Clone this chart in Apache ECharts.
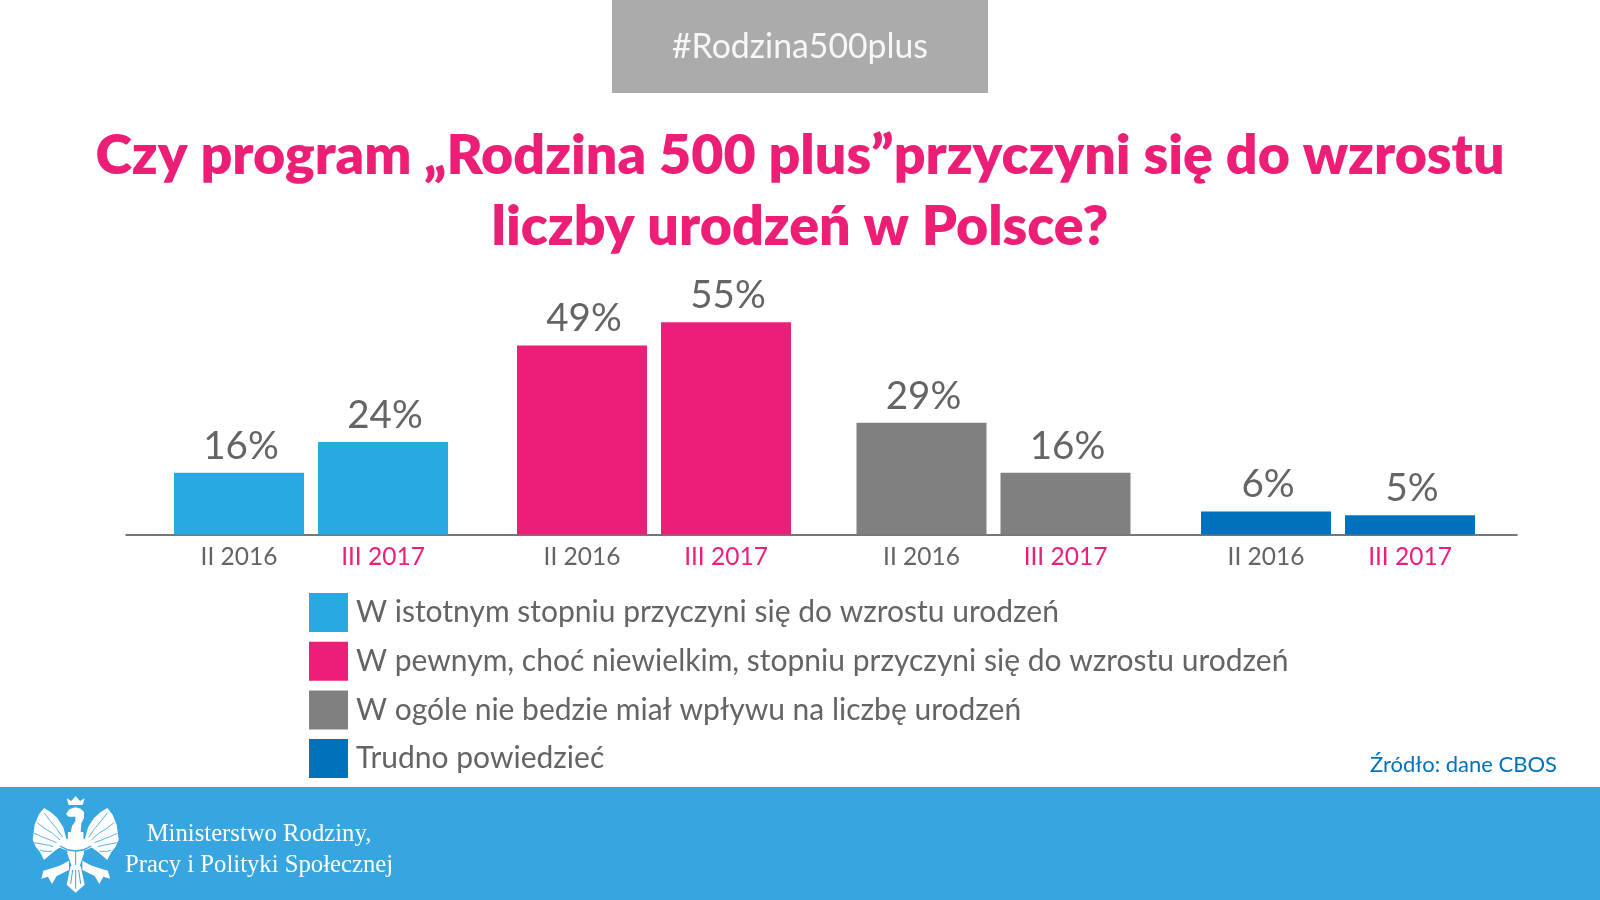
<!DOCTYPE html>
<html>
<head>
<meta charset="utf-8">
<title>Rodzina 500 plus</title>
<style>
html,body{margin:0;padding:0;background:#fff;}
#main{width:1600px;height:900px;}
</style>
<script src="https://cdn.jsdelivr.net/npm/echarts@6/dist/echarts.min.js"></script>
</head>
<body>
<div id="main"></div>
<script>
// dane z wykresu (CBOS)
var okresy = ['II 2016', 'III 2017'];
var istotnym = [16, 24];
var pewnym = [49, 55];
var ogole = [29, 16];
var trudno = [6, 5];
var nazwy = [
    'W istotnym stopniu przyczyni się do wzrostu urodzeń',
    'W pewnym, choć niewielkim, stopniu przyczyni się do wzrostu urodzeń',
    'W ogóle nie bedzie miał wpływu na liczbę urodzeń',
    'Trudno powiedzieć'
];
var tytul = 'Czy program „Rodzina 500 plus”przyczyni się do wzrostu\nliczby urodzeń w Polsce?';
var hashtag = '#Rodzina500plus';
var zrodlo = 'Źródło: dane CBOS';
var stopka = 'Ministerstwo Rodziny,\nPracy i Polityki Społecznej';

var kolory = ['#29a9e1', '#ed1e79', '#808080', '#0071bc'];
var wartosci = [istotnym, pewnym, ogole, trudno];
// lewa krawedz kazdej grupy, krok 144px na slupek
var lewe = [167, 510, 849.5, 1194];
var FONT = 'Lato';

var grid = [], xAxis = [], yAxis = [], series = [];
for (var i = 0; i < 4; i++) {
    grid.push({left: lewe[i], width: 288, top: 303, height: 231.6});
    xAxis.push({
        type: 'category', gridIndex: i, data: okresy,
        axisLine: {show: false}, axisTick: {show: false},
        axisLabel: {
            margin: 10, fontFamily: FONT, fontSize: 24.5, fontWeight: 400,
            color: function (v) { return v === 'II 2016' ? '#636466' : '#ed1e79'; }
        }
    });
    yAxis.push({type: 'value', gridIndex: i, min: 0, max: 60, show: false});
    series.push({
        name: nazwy[i], type: 'bar', xAxisIndex: i, yAxisIndex: i,
        data: wartosci[i], barWidth: 130,
        itemStyle: {color: kolory[i]},
        label: {
            show: true, position: 'top', distance: 7, offset: [2, 0], formatter: '{c}%',
            fontFamily: FONT, fontSize: 38.5, fontWeight: 400, color: '#636466'
        }
    });
}
// linia bazowa osi
grid.push({left: 126, width: 1391, top: 303, height: 231.6});
xAxis.push({
    type: 'category', gridIndex: 4, data: [''],
    axisLine: {lineStyle: {color: '#4a4a4a', width: 1.5}}, axisTick: {show: false}, axisLabel: {show: false}
});
yAxis.push({type: 'value', gridIndex: 4, min: 0, max: 60, show: false});

// orzel w stopce - uproszczony znak, punkty w ukladzie 110x110 *3
var biel = '#ffffff', tlo = '#36a5e0';
var skrzydlo = [[140,150],[130,112],[112,84],[92,66],[72,54],[56,74],[44,104],[38,150],[48,172],[60,186],[72,210],[100,186],[120,172]];
var noga = [[147,212],[122,226],[98,234],[70,242],[64,266],[84,260],[96,282],[110,258],[147,240]];
var piora = [
    [[128,142],[110,116],[90,92],[72,68]],
    [[120,150],[98,130],[72,114],[52,98]],
    [[110,158],[90,150],[65,140],[42,130]],
    [[100,170],[85,166],[65,162],[42,158]],
    [[96,184],[82,184],[72,184],[60,180]]
];
var korona = [[146,45],[140,25],[154,33],[167,18],[180,33],[194,25],[188,45]];
var glowa = [[138,72],[148,58],[166,52],[182,56],[192,66],[192,84],[184,100],[182,128],[152,128],[156,108],[166,94],[166,80],[146,80]];
var tulow = [[144,126],[190,126],[192,190],[178,232],[156,232],[142,190]];
var bark = [[116,148],[218,148],[218,172],[167,192],[116,172]];
var ogon = [[152,228],[182,228],[194,284],[167,308],[140,284]];
var pas = [[120,168],[145,180],[167,183],[189,180],[214,168]];
function odbij(pkt) {
    return pkt.map(function (p) { return [334 - p[0], p[1]]; });
}
function wypelnij(pkt) {
    return {type: 'polygon', z: 10, x: 20, y: 790, scaleX: 1 / 3, scaleY: 1 / 3, shape: {points: pkt}, style: {fill: biel}};
}
function kreska(pkt, lw) {
    return {type: 'polyline', z: 11, x: 20, y: 790, scaleX: 1 / 3, scaleY: 1 / 3, shape: {points: pkt}, style: {fill: 'none', stroke: tlo, lineWidth: lw}};
}
var orzel = [
    wypelnij(skrzydlo), wypelnij(odbij(skrzydlo)), wypelnij(noga), wypelnij(odbij(noga)),
    wypelnij(korona), wypelnij(glowa), wypelnij(bark), wypelnij(tulow), wypelnij(ogon),
    kreska(pas, 4), kreska([[167,184],[167,225]], 3),
    kreska([[158,240],[152,282]], 3), kreska([[167,240],[167,296]], 3), kreska([[176,240],[182,282]], 3)
];
piora.forEach(function (p) {
    orzel.push(kreska(p, 2.5));
    orzel.push(kreska(odbij(p), 2.5));
});

var graphicEls = [
    {type: 'rect', z: 1, shape: {x: 612, y: 0, width: 376, height: 93}, style: {fill: '#ababab'}},
    {type: 'text', z: 2, x: 800, y: 47, style: {text: hashtag, fill: '#f7f7f7', font: '400 33.8px ' + FONT, textAlign: 'center', textVerticalAlign: 'middle'}},
    {type: 'rect', z: 1, shape: {x: 0, y: 787, width: 1600, height: 113}, style: {fill: tlo}},
    {type: 'text', z: 2, x: 1557, y: 765, style: {text: zrodlo, fill: '#0071bc', font: '400 22px ' + FONT, textAlign: 'right', textVerticalAlign: 'middle'}},
    {type: 'text', z: 2, x: 259, y: 835, style: {text: stopka.split('\n')[0], fill: '#ffffff', font: '24.7px "Liberation Serif"', textAlign: 'center', textVerticalAlign: 'middle'}},
    {type: 'text', z: 2, x: 259, y: 866, style: {text: stopka.split('\n')[1], fill: '#ffffff', font: '24.7px "Liberation Serif"', textAlign: 'center', textVerticalAlign: 'middle'}}
].concat(orzel);

var chart = echarts.init(document.getElementById('main'), null, {renderer: 'canvas'});
chart.setOption({
    animation: false,
    backgroundColor: '#ffffff',
    title: {
        text: tytul, left: 795, top: 116, textAlign: 'center',
        textStyle: {fontFamily: FONT, fontSize: 55.5, fontWeight: 800, color: '#ec1e76', lineHeight: 71}
    },
    legend: {
        orient: 'vertical', left: 309, top: 593, itemWidth: 39, itemHeight: 39, itemGap: 9.7,
        icon: 'rect', data: nazwy, selectedMode: false, padding: 0,
        textStyle: {fontFamily: FONT, fontSize: 30, fontWeight: 400, color: '#636466', padding: [2, 0, 0, 3]}
    },
    grid: grid, xAxis: xAxis, yAxis: yAxis, series: series,
    graphic: {elements: graphicEls}
});
</script>
</body>
</html>
